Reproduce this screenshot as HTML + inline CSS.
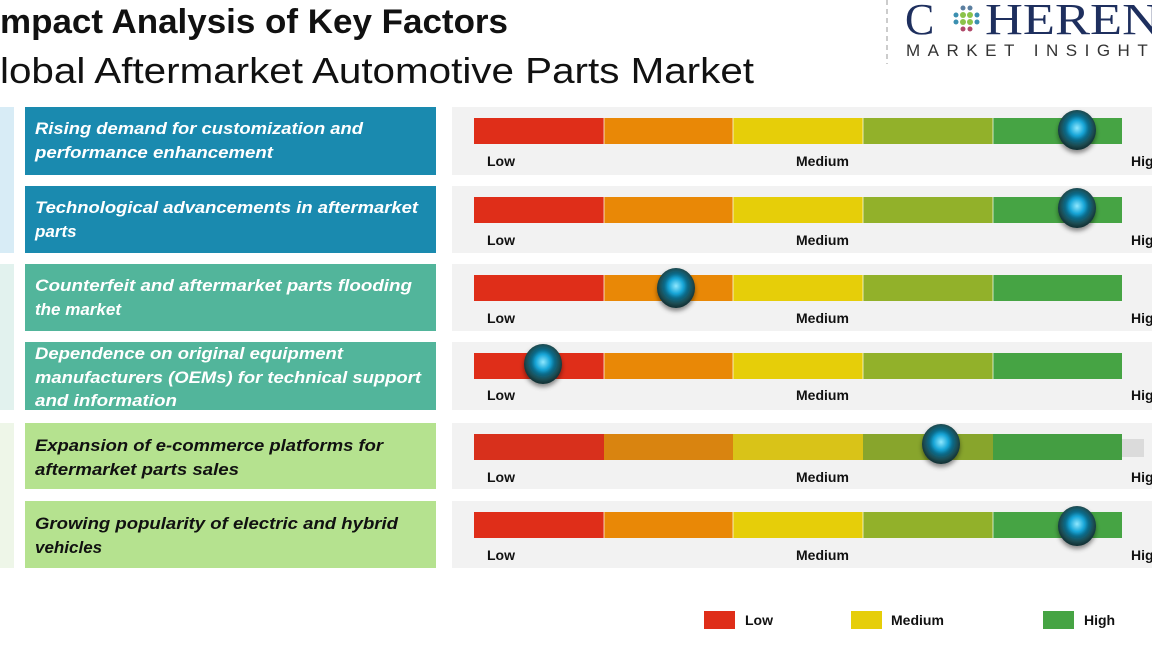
<!DOCTYPE html>
<html><head><meta charset="utf-8"><style>
html,body{margin:0;padding:0;background:#fff;}
svg{display:block;font-family:"Liberation Sans",sans-serif;}
</style></head><body>
<svg width="1152" height="648" viewBox="0 0 1152 648" xmlns="http://www.w3.org/2000/svg">
<defs>
<radialGradient id="kn" cx="50%" cy="45%" r="55%">
<stop offset="0" stop-color="#8fe8ff"/><stop offset="0.35" stop-color="#18a6d8"/><stop offset="0.55" stop-color="#0a6c8c"/><stop offset="0.8" stop-color="#1d4c52"/><stop offset="1" stop-color="#0f2c30"/>
</radialGradient>
<filter id="sh" x="-50%" y="-50%" width="200%" height="200%"><feDropShadow dx="0" dy="3" stdDeviation="2.5" flood-color="#000" flood-opacity="0.45"/></filter>
</defs>
<text x="0" y="33" font-size="34" font-weight="bold" fill="#111" textLength="508" lengthAdjust="spacingAndGlyphs">mpact Analysis of Key Factors</text>
<text x="0" y="83" font-size="36" fill="#111" textLength="754" lengthAdjust="spacingAndGlyphs">lobal Aftermarket Automotive Parts Market</text>
<line x1="887" y1="0" x2="887" y2="64" stroke="#bbb" stroke-dasharray="5,4" stroke-width="1.5"/>
<text x="905" y="34" font-family="Liberation Serif,serif" font-size="44" fill="#1e2f5e">C</text>
<g fill="#4a9">
<circle cx="963" cy="8" r="2.5" fill="#5b7fa0"/><circle cx="970" cy="8" r="2.5" fill="#5b7fa0"/><circle cx="956" cy="15" r="2.5" fill="#3b8fb0"/><circle cx="963" cy="15" r="3" fill="#8bc34a"/><circle cx="970" cy="15" r="3" fill="#8bc34a"/><circle cx="977" cy="15" r="2.5" fill="#3b8fb0"/><circle cx="956" cy="22" r="2.5" fill="#3b8fb0"/><circle cx="963" cy="22" r="3" fill="#8bc34a"/><circle cx="970" cy="22" r="3" fill="#8bc34a"/><circle cx="977" cy="22" r="2.5" fill="#3b8fb0"/><circle cx="963" cy="29" r="2.5" fill="#b04a6a"/><circle cx="970" cy="29" r="2.5" fill="#b04a6a"/>
</g>
<text x="985" y="34" font-family="Liberation Serif,serif" font-size="44" fill="#1e2f5e" textLength="175" lengthAdjust="spacingAndGlyphs">HEREN</text>
<text x="906" y="56" font-size="17" fill="#333" letter-spacing="7.5">MARKET INSIGHTS</text>
<rect x="0" y="107" width="14" height="146" fill="#d8ecf6"/>
<rect x="0" y="264" width="14" height="146" fill="#e2f2ee"/>
<rect x="0" y="423" width="14" height="145" fill="#eef6e8"/>
<g font-size="17" font-weight="bold" font-style="italic">
<rect x="25" y="107" width="411" height="68" fill="#1a8aaf"/>
<text x="35" y="134" fill="#fff" textLength="328" lengthAdjust="spacingAndGlyphs">Rising demand for customization and</text>
<text x="35" y="158" fill="#fff" textLength="238" lengthAdjust="spacingAndGlyphs">performance enhancement</text>
<rect x="25" y="186" width="411" height="67" fill="#1a8aaf"/>
<text x="35" y="213" fill="#fff" textLength="383" lengthAdjust="spacingAndGlyphs">Technological advancements in aftermarket</text>
<text x="35" y="237" fill="#fff">parts</text>
<rect x="25" y="264" width="411" height="67" fill="#52b59b"/>
<text x="35" y="291" fill="#fff" textLength="377" lengthAdjust="spacingAndGlyphs">Counterfeit and aftermarket parts flooding</text>
<text x="35" y="315" fill="#fff">the market</text>
<rect x="25" y="342" width="411" height="68" fill="#52b59b"/>
<text x="35" y="359" fill="#fff" textLength="308" lengthAdjust="spacingAndGlyphs">Dependence on original equipment</text>
<text x="35" y="383" fill="#fff" textLength="386" lengthAdjust="spacingAndGlyphs">manufacturers (OEMs) for technical support</text>
<text x="35" y="406" fill="#fff" textLength="142" lengthAdjust="spacingAndGlyphs">and information</text>
<rect x="25" y="423" width="411" height="66" fill="#b5e28f"/>
<text x="35" y="451" fill="#111" textLength="348" lengthAdjust="spacingAndGlyphs">Expansion of e-commerce platforms for</text>
<text x="35" y="475" fill="#111" textLength="204" lengthAdjust="spacingAndGlyphs">aftermarket parts sales</text>
<rect x="25" y="501" width="411" height="67" fill="#b5e28f"/>
<text x="35" y="529" fill="#111" textLength="363" lengthAdjust="spacingAndGlyphs">Growing popularity of electric and hybrid</text>
<text x="35" y="553" fill="#111">vehicles</text>
</g>
<g id="rows" font-size="14" font-weight="bold" fill="#111">
<!-- row template repeated -->
</g>
<g font-size="14" font-weight="bold">
<!-- rows: top y, knob x -->
<g transform="translate(0,107)">
<rect x="452" y="0" width="700" height="68" fill="#f2f2f2"/>
<rect x="474" y="11" width="130" height="26" fill="#df2e19"/><rect x="604" y="11" width="129" height="26" fill="#e98806"/><rect x="733" y="11" width="130" height="26" fill="#e6ce09"/><rect x="863" y="11" width="130" height="26" fill="#92b12a"/><rect x="993" y="11" width="129" height="26" fill="#46a444"/>
<path d="M604 11V37M733 11V37M863 11V37M993 11V37" stroke="#fff" stroke-width="1" opacity="0.7"/>
<text x="487" y="59" fill="#111">Low</text><text x="796" y="59" fill="#111">Medium</text><text x="1131" y="59" fill="#111">High</text>
<ellipse cx="1077" cy="23" rx="19" ry="20" fill="url(#kn)" filter="url(#sh)"/>
</g>
<g transform="translate(0,186)">
<rect x="452" y="0" width="700" height="67" fill="#f2f2f2"/>
<rect x="474" y="11" width="130" height="26" fill="#df2e19"/><rect x="604" y="11" width="129" height="26" fill="#e98806"/><rect x="733" y="11" width="130" height="26" fill="#e6ce09"/><rect x="863" y="11" width="130" height="26" fill="#92b12a"/><rect x="993" y="11" width="129" height="26" fill="#46a444"/>
<path d="M604 11V37M733 11V37M863 11V37M993 11V37" stroke="#fff" stroke-width="1" opacity="0.7"/>
<text x="487" y="59" fill="#111">Low</text><text x="796" y="59" fill="#111">Medium</text><text x="1131" y="59" fill="#111">High</text>
<ellipse cx="1077" cy="22" rx="19" ry="20" fill="url(#kn)" filter="url(#sh)"/>
</g>
<g transform="translate(0,264)">
<rect x="452" y="0" width="700" height="67" fill="#f2f2f2"/>
<rect x="474" y="11" width="130" height="26" fill="#df2e19"/><rect x="604" y="11" width="129" height="26" fill="#e98806"/><rect x="733" y="11" width="130" height="26" fill="#e6ce09"/><rect x="863" y="11" width="130" height="26" fill="#92b12a"/><rect x="993" y="11" width="129" height="26" fill="#46a444"/>
<path d="M604 11V37M733 11V37M863 11V37M993 11V37" stroke="#fff" stroke-width="1" opacity="0.7"/>
<text x="487" y="59" fill="#111">Low</text><text x="796" y="59" fill="#111">Medium</text><text x="1131" y="59" fill="#111">High</text>
<ellipse cx="676" cy="24" rx="19" ry="20" fill="url(#kn)" filter="url(#sh)"/>
</g>
<g transform="translate(0,342)">
<rect x="452" y="0" width="700" height="68" fill="#f2f2f2"/>
<rect x="474" y="11" width="130" height="26" fill="#df2e19"/><rect x="604" y="11" width="129" height="26" fill="#e98806"/><rect x="733" y="11" width="130" height="26" fill="#e6ce09"/><rect x="863" y="11" width="130" height="26" fill="#92b12a"/><rect x="993" y="11" width="129" height="26" fill="#46a444"/>
<path d="M604 11V37M733 11V37M863 11V37M993 11V37" stroke="#fff" stroke-width="1" opacity="0.7"/>
<text x="487" y="58" fill="#111">Low</text><text x="796" y="58" fill="#111">Medium</text><text x="1131" y="58" fill="#111">High</text>
<ellipse cx="543" cy="22" rx="19" ry="20" fill="url(#kn)" filter="url(#sh)"/>
</g>
<g transform="translate(0,423)">
<rect x="452" y="0" width="700" height="66" fill="#f2f2f2"/>
<rect x="474" y="11" width="130" height="26" fill="#d8301c"/><rect x="604" y="11" width="129" height="26" fill="#d98410"/><rect x="733" y="11" width="130" height="26" fill="#d9c318"/><rect x="863" y="11" width="130" height="26" fill="#88a52c"/><rect x="993" y="11" width="129" height="26" fill="#449e42"/>
<rect x="1122" y="16" width="22" height="18" fill="#ccc" opacity="0.6"/>
<text x="487" y="59" fill="#111">Low</text><text x="796" y="59" fill="#111">Medium</text><text x="1131" y="59" fill="#111">High</text>
<ellipse cx="941" cy="21" rx="19" ry="20" fill="url(#kn)" filter="url(#sh)"/>
</g>
<g transform="translate(0,501)">
<rect x="452" y="0" width="700" height="67" fill="#f2f2f2"/>
<rect x="474" y="11" width="130" height="26" fill="#df2e19"/><rect x="604" y="11" width="129" height="26" fill="#e98806"/><rect x="733" y="11" width="130" height="26" fill="#e6ce09"/><rect x="863" y="11" width="130" height="26" fill="#92b12a"/><rect x="993" y="11" width="129" height="26" fill="#46a444"/>
<path d="M604 11V37M733 11V37M863 11V37M993 11V37" stroke="#fff" stroke-width="1" opacity="0.7"/>
<text x="487" y="59" fill="#111">Low</text><text x="796" y="59" fill="#111">Medium</text><text x="1131" y="59" fill="#111">High</text>
<ellipse cx="1077" cy="25" rx="19" ry="20" fill="url(#kn)" filter="url(#sh)"/>
</g>
</g>
<g font-size="14" font-weight="bold" fill="#111">
<rect x="704" y="611" width="31" height="18" fill="#df2e19"/><text x="745" y="625">Low</text>
<rect x="851" y="611" width="31" height="18" fill="#e6ce09"/><text x="891" y="625">Medium</text>
<rect x="1043" y="611" width="31" height="18" fill="#46a444"/><text x="1084" y="625">High</text>
</g>
</svg>
</body></html>
